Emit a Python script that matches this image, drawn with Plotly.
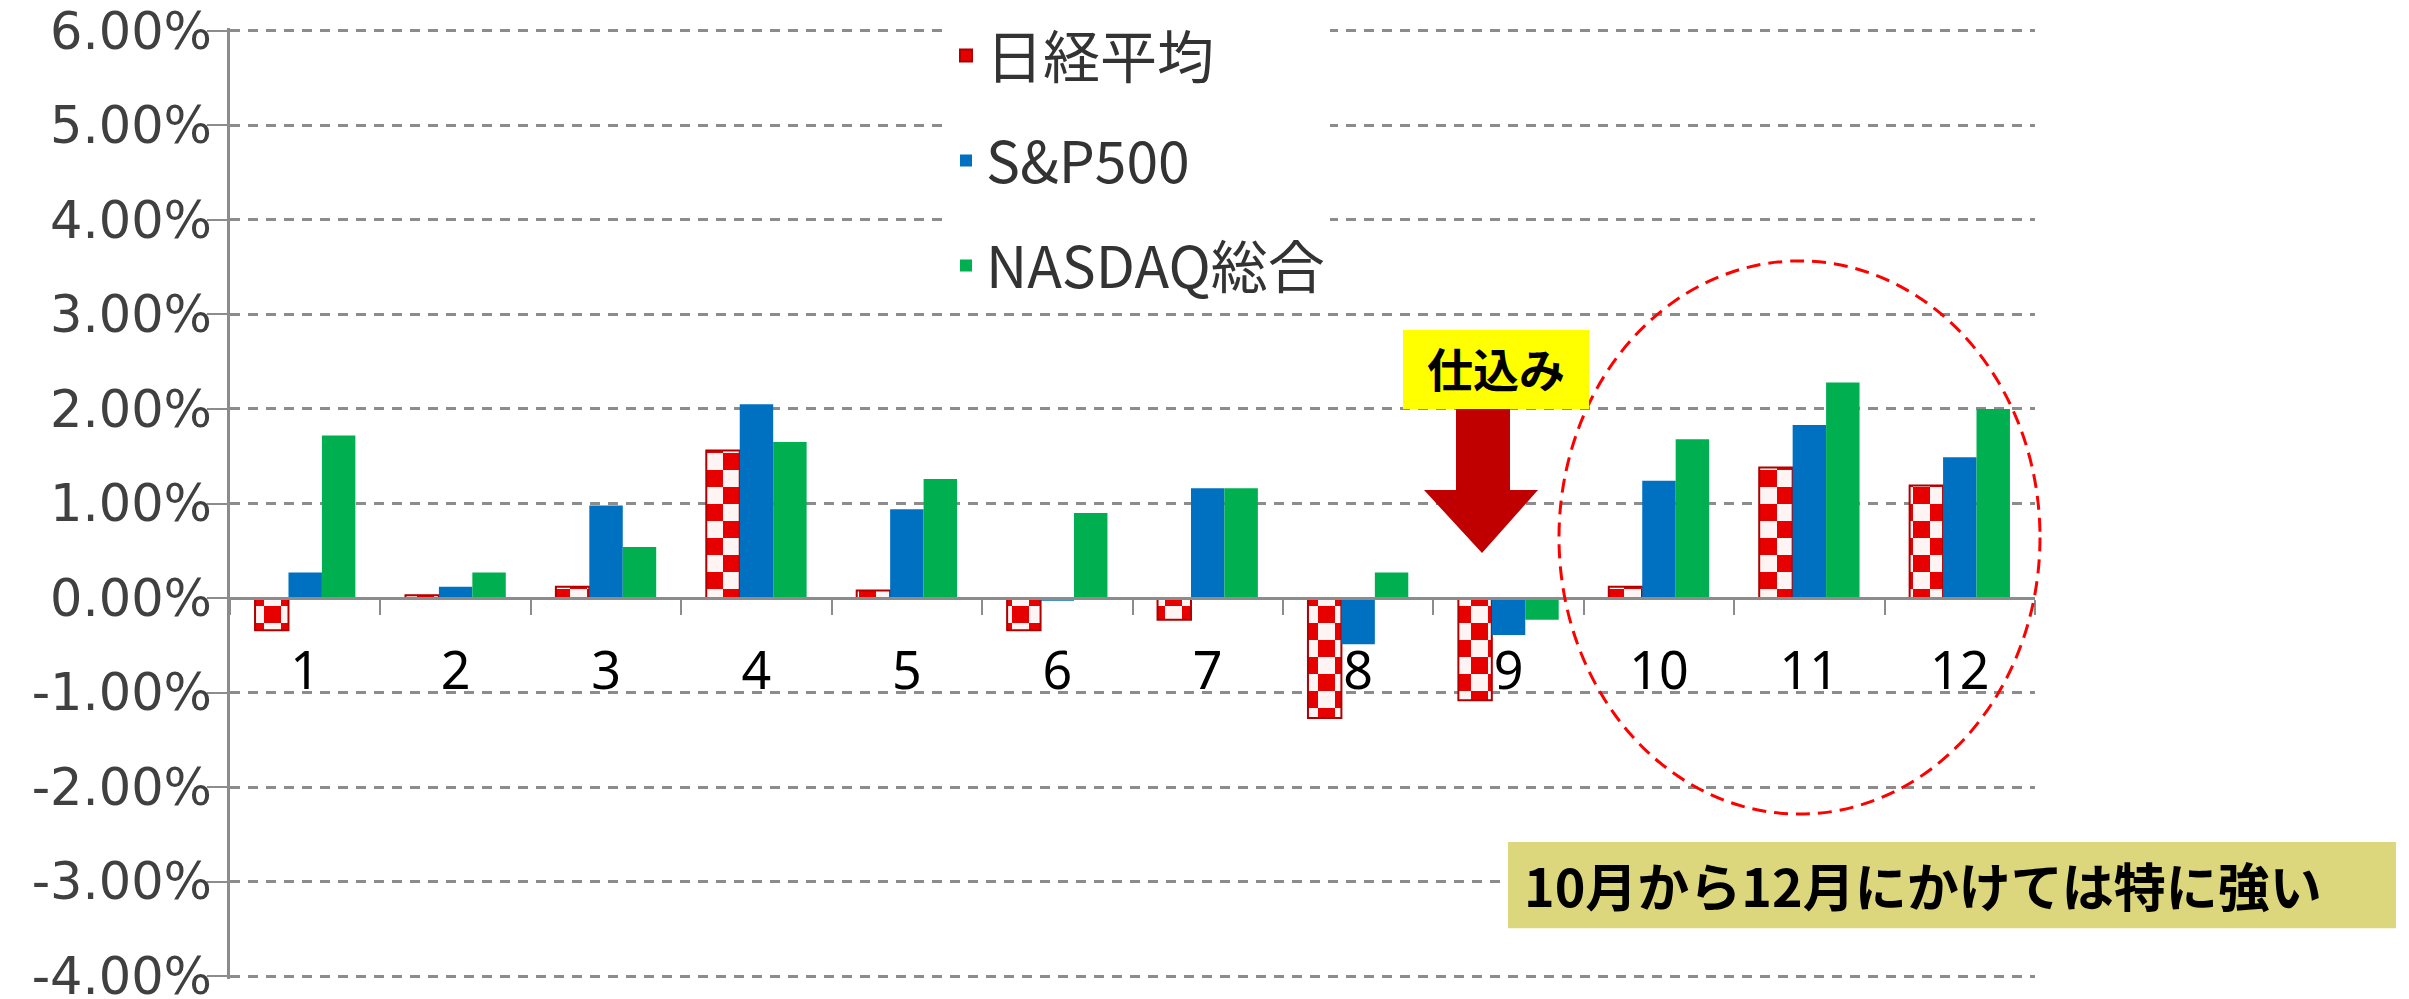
import plotly.graph_objects as go

# ---- data (monthly average returns, %) ----
months = ["1", "2", "3", "4", "5", "6", "7", "8", "9", "10", "11", "12"]
nikkei = [-0.34, 0.03, 0.12, 1.56, 0.08, -0.34, -0.23, -1.27, -1.08, 0.12, 1.38, 1.19]
sp500 = [0.27, 0.12, 0.98, 2.05, 0.94, -0.03, 1.16, -0.49, -0.39, 1.24, 1.83, 1.49]
nasdaq = [1.72, 0.27, 0.54, 1.65, 1.26, 0.90, 1.16, 0.27, -0.23, 1.68, 2.28, 2.00]
series_names = ["日経平均", "S&P500", "NASDAQ総合"]
y_tickvals = [-4, -3, -2, -1, 0, 1, 2, 3, 4, 5, 6]
y_ticktext = ["-4.00%", "-3.00%", "-2.00%", "-1.00%", "0.00%", "1.00%",
              "2.00%", "3.00%", "4.00%", "5.00%", "6.00%"]
note_small = "仕込み"
note_big = "10月から12月にかけては特に強い"

# ---- geometry (screen pixels; page body has an 8px offset) ----
W, H = 2409, 999
OFF = 8
Y0, Y1 = -4.03, 6.03
ZERO_PX, UNIT_PX = 598, 94.5
PLOT_L, PLOT_R = 230, 2035
PLOT_T = ZERO_PX - Y1 * UNIT_PX
PLOT_B = ZERO_PX - Y0 * UNIT_PX
L, R = PLOT_L - OFF, W - (PLOT_R - OFF)
T, B = PLOT_T - OFF, H - (PLOT_B - OFF)


def fx(px):
    return (px - PLOT_L) / (PLOT_R - PLOT_L)


def fy(py):
    return (PLOT_B - py) / (PLOT_B - PLOT_T)


GRID = "#8c8c8c"
JP = "Noto Sans CJK JP"
CHECK = "M0,0H17V17H0Z M17,17H34V34H17Z"

fig = go.Figure()
fig.add_bar(x=months, y=nikkei, name=series_names[0], legendgroup="a",
            marker=dict(color="#E60000",
                        line=dict(color="#B00000", width=2),
                        pattern=dict(path=CHECK, fgcolor="#E60000", bgcolor="#FFF4F4",
                                     size=34, solidity=1, fillmode="replace")))
fig.add_bar(x=months, y=sp500, name=series_names[1], legendgroup="b",
            marker=dict(color="#0070C0", line=dict(width=0)))
fig.add_bar(x=months, y=nasdaq, name=series_names[2], legendgroup="c",
            marker=dict(color="#00B050", line=dict(width=0)))

fig.update_layout(
    width=W, height=H,
    margin=dict(l=L, r=R, t=T, b=B, autoexpand=False),
    paper_bgcolor="white", plot_bgcolor="white",
    barmode="group", bargap=0.333, bargroupgap=0,
    legend=dict(x=fx(946), y=fy(12), xanchor="left", yanchor="top",
                bgcolor="white", tracegroupgap=28, borderwidth=0,
                font=dict(family=JP, size=57, color="#333333")),
    xaxis=dict(type="category", anchor="free", position=fy(ZERO_PX),
               range=[-0.5, 11.5], showline=True, linecolor=GRID, linewidth=2.5,
               ticks="outside", tickson="boundaries", ticklen=15, tickcolor=GRID,
               tickwidth=2, showgrid=False, ticklabelstandoff=27,
               tickfont=dict(family="Noto Sans", size=52, color="black")),
    yaxis=dict(range=[Y0, Y1], tickvals=y_tickvals, ticktext=y_ticktext,
               showline=True, linecolor=GRID, linewidth=2.5,
               ticks="outside", ticklen=20, tickcolor=GRID, tickwidth=2,
               ticklabelstandoff=-15, ticklabeloverflow="allow",
               showgrid=True, gridcolor=GRID, gridwidth=2.5, griddash="10px,8px",
               zeroline=False,
               tickfont=dict(family="DejaVu Sans", size=51, color="#404040")),
)

# dashed red ellipse around Oct-Dec
fig.add_shape(type="circle", xref="x domain", yref="y domain",
              x0=fx(1559), x1=fx(2040), y0=fy(814), y1=fy(261),
              line=dict(color="#FF0000", width=3, dash="14px,8px"))

# down arrow
pts = [(1456, 409), (1510, 409), (1510, 490), (1538, 490), (1482, 553),
       (1424, 490), (1456, 490)]
path = "M " + " L ".join(f"{fx(a):.5f},{fy(b):.5f}" for a, b in pts) + " Z"
fig.add_shape(type="path", xref="x domain", yref="y domain", path=path,
              fillcolor="#C00000", line=dict(width=0))

# yellow label box
fig.add_shape(type="rect", xref="x domain", yref="y domain",
              x0=fx(1403), x1=fx(1589), y0=fy(409), y1=fy(330),
              fillcolor="#FFFF00", line=dict(width=0))
fig.add_annotation(xref="x domain", yref="y domain", x=fx(1496), y=fy(367),
                   text=note_small, showarrow=False, xanchor="center", yanchor="middle",
                   font=dict(family=JP, size=46, color="black", weight="bold"))

# khaki comment box
fig.add_shape(type="rect", xref="x domain", yref="y domain",
              x0=fx(1508), x1=fx(2396), y0=fy(928), y1=fy(842),
              fillcolor="#DCD67C", line=dict(width=0))
fig.add_annotation(xref="x domain", yref="y domain", x=fx(1522), y=fy(884),
                   text=note_big, showarrow=False, xanchor="left", yanchor="middle",
                   font=dict(family=JP, size=52, color="black", weight="bold"))

fig.write_html("out.html")
